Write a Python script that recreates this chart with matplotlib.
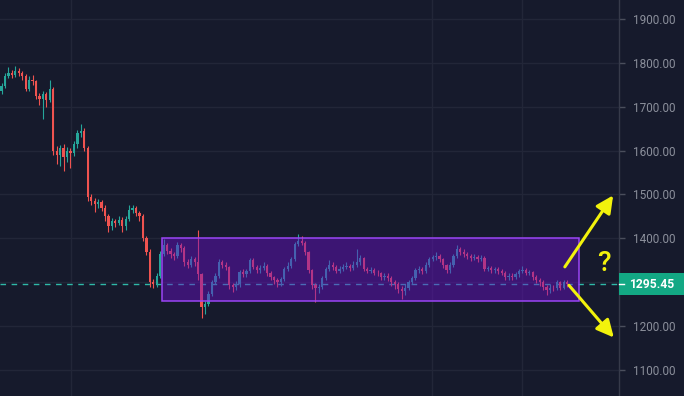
import matplotlib
matplotlib.use("Agg")
import matplotlib.pyplot as plt
import matplotlib.transforms as mtransforms
from matplotlib.patches import Rectangle, FancyArrowPatch

# ---- data ----
first_open = 1735
closes = [
    1748, 1770, 1778, 1772, 1782, 1776, 1770, 1740, 1762, 1758,
    1725, 1718, 1728, 1715, 1740, 1600, 1590, 1605, 1585, 1600,
    1595, 1615, 1640, 1645, 1605, 1495, 1485, 1478, 1482, 1470,
    1450, 1428, 1440, 1436, 1442, 1428, 1445, 1465, 1470, 1458,
    1450, 1400, 1370, 1300, 1295, 1315, 1365, 1385, 1372, 1365,
    1360, 1385, 1378, 1345, 1340, 1352, 1345, 1318, 1243, 1250,
    1273, 1300, 1315, 1345, 1340, 1335, 1293, 1289, 1295, 1323,
    1318, 1325, 1350, 1335, 1327, 1333, 1338, 1320, 1311, 1305,
    1300, 1308, 1330, 1338, 1352, 1387, 1395, 1390, 1368, 1327,
    1293, 1288, 1290, 1310, 1330, 1339, 1335, 1325, 1330, 1335,
    1338, 1333, 1340, 1345, 1355, 1330, 1326, 1328, 1322, 1320,
    1312, 1315, 1310, 1300, 1295, 1285, 1280, 1288, 1300, 1310,
    1327, 1330, 1325, 1340, 1352, 1357, 1360, 1352, 1339, 1327,
    1340, 1360, 1375, 1370, 1365, 1360, 1355, 1358, 1352, 1356,
    1330, 1332, 1328, 1330, 1325, 1322, 1311, 1315, 1313, 1318,
    1325, 1328, 1322, 1323, 1312, 1305, 1300, 1290, 1282, 1288,
    1286, 1300, 1288, 1300, 1295.45,
]
highs = [
    1755, 1778, 1790, 1784, 1792, 1788, 1782, 1775, 1770, 1772,
    1762, 1732, 1735, 1734, 1762, 1745, 1610, 1612, 1615, 1608,
    1605, 1622, 1648, 1660, 1652, 1610, 1500, 1492, 1490, 1488,
    1475, 1455, 1446, 1445, 1450, 1448, 1452, 1477, 1476, 1474,
    1462, 1455, 1405, 1375, 1308, 1320, 1372, 1398, 1390, 1378,
    1370, 1392, 1390, 1382, 1352, 1360, 1358, 1418, 1322, 1258,
    1280, 1305, 1322, 1352, 1350, 1345, 1338, 1298, 1302, 1328,
    1330, 1330, 1355, 1355, 1340, 1340, 1345, 1342, 1325, 1315,
    1310, 1312, 1335, 1345, 1358, 1392, 1409, 1405, 1395, 1372,
    1330, 1298, 1296, 1315, 1335, 1350, 1345, 1340, 1336, 1342,
    1345, 1342, 1348, 1375, 1362, 1358, 1335, 1334, 1332, 1328,
    1324, 1320, 1320, 1314, 1305, 1300, 1292, 1295, 1305, 1315,
    1332, 1336, 1335, 1345, 1358, 1362, 1368, 1365, 1356, 1342,
    1345, 1365, 1384, 1380, 1375, 1370, 1364, 1364, 1362, 1362,
    1360, 1338, 1336, 1335, 1334, 1330, 1325, 1320, 1320, 1324,
    1330, 1338, 1332, 1328, 1326, 1316, 1310, 1304, 1294, 1295,
    1294, 1304, 1303, 1305, 1304,
]
lows = [
    1728, 1742, 1765, 1766, 1768, 1770, 1762, 1735, 1735, 1750,
    1718, 1705, 1672, 1700, 1710, 1590, 1570, 1565, 1553, 1575,
    1560, 1588, 1605, 1632, 1598, 1485, 1475, 1460, 1470, 1462,
    1440, 1414, 1420, 1425, 1430, 1414, 1420, 1440, 1458, 1450,
    1440, 1395, 1362, 1289, 1288, 1290, 1310, 1360, 1365, 1355,
    1350, 1355, 1370, 1338, 1332, 1335, 1338, 1305, 1218, 1228,
    1245, 1268, 1295, 1310, 1332, 1328, 1285, 1278, 1282, 1290,
    1312, 1312, 1320, 1330, 1320, 1322, 1328, 1315, 1305, 1295,
    1290, 1292, 1302, 1325, 1332, 1348, 1382, 1384, 1362, 1320,
    1285, 1255, 1275, 1284, 1305, 1325, 1328, 1320, 1320, 1325,
    1330, 1326, 1328, 1335, 1340, 1325, 1320, 1320, 1316, 1314,
    1305, 1306, 1302, 1292, 1285, 1275, 1262, 1272, 1282, 1295,
    1305, 1320, 1318, 1320, 1335, 1348, 1350, 1346, 1332, 1320,
    1322, 1335, 1355, 1362, 1358, 1352, 1348, 1350, 1345, 1348,
    1325, 1325, 1322, 1322, 1318, 1316, 1305, 1306, 1306, 1308,
    1312, 1320, 1316, 1316, 1306, 1298, 1292, 1282, 1270, 1276,
    1280, 1282, 1283, 1284, 1290,
]
opens = [first_open] + closes[:-1]
last_price = 1295.45
tick_values = [1100, 1200, 1400, 1500, 1600, 1700, 1800, 1900]
grid_levels = [1100, 1200, 1300, 1400, 1500, 1600, 1700, 1800, 1900]
vgrid_idx = [20.1, 124.8, 150.9]

# range box & arrows (annotations)
box_x0, box_x1 = 46.5, 167.4
box_y0, box_y1 = 1257, 1400
arrow_up = ((163.3, 1335), (177.3, 1498))
arrow_dn = ((164.5, 1293), (177.5, 1174))

# ---- style ----
BG = "#161a2c"
GRID = "#222638"
UP = "#26a69a"
DN = "#ef5350"

fig = plt.figure(figsize=(6.84, 3.96), dpi=100, facecolor=BG)
ax = fig.add_axes([0, 0, 619 / 684, 1])
ax.set_facecolor(BG)
ax.set_xlim(-0.435, 179.0)
ax.set_ylim(1040.7, 1943.3)

for lv in grid_levels:
    ax.axhline(lv, color=GRID, lw=1, zorder=0)
for vx in vgrid_idx:
    ax.axvline(vx, color=GRID, lw=1, zorder=0)

xs = list(range(len(closes)))
cols = [UP if c >= o else DN for o, c in zip(opens, closes)]
ax.vlines(xs, lows, highs, colors=cols, lw=0.8, zorder=2)
bottoms = [min(o, c) for o, c in zip(opens, closes)]
heights = [max(abs(c - o), 1.5) for o, c in zip(opens, closes)]
ax.bar(xs, heights, bottom=bottoms, width=0.65, color=cols, lw=0, zorder=3)

# last price dashed line
ax.axhline(last_price, color="#2fb9a8", lw=1, ls=(0, (4, 4)), zorder=1.5)

# range box
ax.add_patch(Rectangle((box_x0, box_y0), box_x1 - box_x0, box_y1 - box_y0,
                       facecolor="#6a10c8", alpha=0.46, edgecolor="none", zorder=4))
ax.add_patch(Rectangle((box_x0, box_y0), box_x1 - box_x0, box_y1 - box_y0,
                       facecolor="none", edgecolor="#9a45f5", lw=1.1, zorder=4.5))

# arrows
for (s, e) in (arrow_up, arrow_dn):
    ax.add_patch(FancyArrowPatch(s, e, arrowstyle="-|>,head_length=6.5,head_width=3.2",
                                 color="#f2f20c", lw=2.2, mutation_scale=1.6,
                                 shrinkA=0, shrinkB=0, zorder=6, clip_on=False))
ax.text(174.6, 1342, "?", color="#f2f20c", fontsize=20, family="Roboto",
        fontweight="medium", ha="center", va="center", zorder=6)

# axes / ticks
for sp in ("top", "left", "bottom"):
    ax.spines[sp].set_visible(False)
ax.spines["right"].set_color("#363a4a")
ax.spines["right"].set_linewidth(1)
ax.set_xticks([])
ax.yaxis.tick_right()
ax.set_yticks(tick_values)
ax.set_yticklabels([f"{v:.2f}" for v in tick_values])
ax.tick_params(axis="y", colors="#4a4e5c", length=4, width=1, pad=6,
               labelcolor="#8b8f9b", labelsize=8.5)
for lbl in ax.get_yticklabels():
    lbl.set_family("Roboto")

# price label on axis
bt = mtransforms.blended_transform_factory(fig.transFigure, ax.transData)
fig.patches.append(Rectangle((619 / 684, last_price - 25), 65 / 684, 50,
                             transform=bt, facecolor="#13a884", edgecolor="none",
                             zorder=10))
fig.lines.append(plt.Line2D([619 / 684, 624 / 684], [last_price, last_price],
                            transform=bt, color="white", lw=1, zorder=11))
fig.text(651.5 / 684, last_price, f"{last_price:.2f}", transform=bt,
         color="white", fontsize=8.7, family="Roboto", fontweight="bold",
         ha="center", va="center", zorder=12)

fig.savefig("out.png", dpi=100, facecolor=BG)
